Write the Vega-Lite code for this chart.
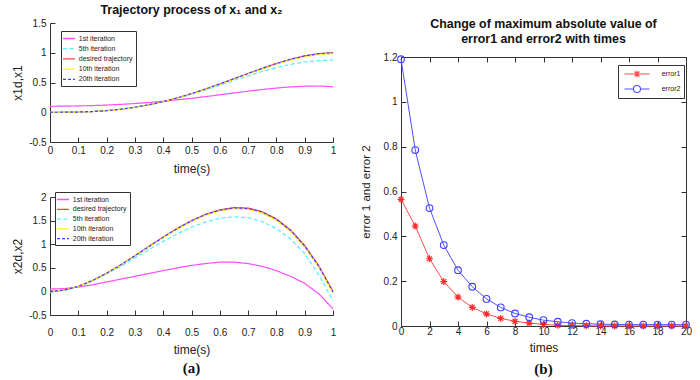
{
  "$schema": "https://vega.github.io/schema/vega-lite/v6.json",
  "background": "white",
  "padding": {"left": 11, "top": 3, "right": 4, "bottom": 0},
  "spacing": 23,
  "config": {
    "view": {"stroke": null},
    "font": "Liberation Sans",
    "axis": {"grid": false, "domainColor": "#333", "tickColor": "#333", "labelColor": "#222", "titleColor": "#222", "labelFont": "Liberation Sans", "titleFont": "Liberation Sans", "labelFontSize": 10, "titleFontSize": 12, "titleFontWeight": "normal", "tickSize": -5, "labelOverlap": false, "labelFlush": false},
    "title": {"font": "Liberation Sans", "fontSize": 12.4, "fontWeight": "bold", "color": "#111", "anchor": "middle"}
  },
  "datasets": {
    "traj": [
      {"t":0,"s":"desired trajectory","x1":0,"x2":0},
      {"t":0.05,"s":"desired trajectory","x1":0.0005,"x2":0.0285},
      {"t":0.1,"s":"desired trajectory","x1":0.0037,"x2":0.108},
      {"t":0.15,"s":"desired trajectory","x1":0.012,"x2":0.2295},
      {"t":0.2,"s":"desired trajectory","x1":0.0272,"x2":0.384},
      {"t":0.25,"s":"desired trajectory","x1":0.0508,"x2":0.5625},
      {"t":0.3,"s":"desired trajectory","x1":0.0837,"x2":0.756},
      {"t":0.35,"s":"desired trajectory","x1":0.1265,"x2":0.9555},
      {"t":0.4,"s":"desired trajectory","x1":0.1792,"x2":1.152},
      {"t":0.45,"s":"desired trajectory","x1":0.2415,"x2":1.3365},
      {"t":0.5,"s":"desired trajectory","x1":0.3125,"x2":1.5},
      {"t":0.55,"s":"desired trajectory","x1":0.391,"x2":1.6335},
      {"t":0.6,"s":"desired trajectory","x1":0.4752,"x2":1.728},
      {"t":0.65,"s":"desired trajectory","x1":0.563,"x2":1.7745},
      {"t":0.7,"s":"desired trajectory","x1":0.6517,"x2":1.764},
      {"t":0.75,"s":"desired trajectory","x1":0.7383,"x2":1.6875},
      {"t":0.8,"s":"desired trajectory","x1":0.8192,"x2":1.536},
      {"t":0.85,"s":"desired trajectory","x1":0.8905,"x2":1.3005},
      {"t":0.9,"s":"desired trajectory","x1":0.9477,"x2":0.972},
      {"t":0.95,"s":"desired trajectory","x1":0.986,"x2":0.5415},
      {"t":1,"s":"desired trajectory","x1":1,"x2":0},
      {"t":0,"s":"1st iteration","x1":0.1,"x2":0.05},
      {"t":0.05,"s":"1st iteration","x1":0.1028,"x2":0.06},
      {"t":0.1,"s":"1st iteration","x1":0.1065,"x2":0.09},
      {"t":0.15,"s":"1st iteration","x1":0.1123,"x2":0.14},
      {"t":0.2,"s":"1st iteration","x1":0.1208,"x2":0.2},
      {"t":0.25,"s":"1st iteration","x1":0.1323,"x2":0.26},
      {"t":0.3,"s":"1st iteration","x1":0.1468,"x2":0.32},
      {"t":0.35,"s":"1st iteration","x1":0.1643,"x2":0.38},
      {"t":0.4,"s":"1st iteration","x1":0.1848,"x2":0.44},
      {"t":0.45,"s":"1st iteration","x1":0.2083,"x2":0.5},
      {"t":0.5,"s":"1st iteration","x1":0.2345,"x2":0.55},
      {"t":0.55,"s":"1st iteration","x1":0.263,"x2":0.59},
      {"t":0.6,"s":"1st iteration","x1":0.2933,"x2":0.62},
      {"t":0.65,"s":"1st iteration","x1":0.3243,"x2":0.62},
      {"t":0.7,"s":"1st iteration","x1":0.3545,"x2":0.59},
      {"t":0.75,"s":"1st iteration","x1":0.3825,"x2":0.53},
      {"t":0.8,"s":"1st iteration","x1":0.4068,"x2":0.44},
      {"t":0.85,"s":"1st iteration","x1":0.4258,"x2":0.32},
      {"t":0.9,"s":"1st iteration","x1":0.438,"x2":0.17},
      {"t":0.95,"s":"1st iteration","x1":0.441,"x2":-0.05},
      {"t":1,"s":"1st iteration","x1":0.4305,"x2":-0.37},
      {"t":0,"s":"5th iteration","x1":0,"x2":-0.02},
      {"t":0.05,"s":"5th iteration","x1":0.0003,"x2":0.02},
      {"t":0.1,"s":"5th iteration","x1":0.004,"x2":0.1},
      {"t":0.15,"s":"5th iteration","x1":0.012,"x2":0.22},
      {"t":0.2,"s":"5th iteration","x1":0.027,"x2":0.37},
      {"t":0.25,"s":"5th iteration","x1":0.05,"x2":0.53},
      {"t":0.3,"s":"5th iteration","x1":0.082,"x2":0.71},
      {"t":0.35,"s":"5th iteration","x1":0.122,"x2":0.89},
      {"t":0.4,"s":"5th iteration","x1":0.172,"x2":1.06},
      {"t":0.45,"s":"5th iteration","x1":0.232,"x2":1.22},
      {"t":0.5,"s":"5th iteration","x1":0.3,"x2":1.36},
      {"t":0.55,"s":"5th iteration","x1":0.375,"x2":1.47},
      {"t":0.6,"s":"5th iteration","x1":0.455,"x2":1.55},
      {"t":0.65,"s":"5th iteration","x1":0.535,"x2":1.58},
      {"t":0.7,"s":"5th iteration","x1":0.61,"x2":1.56},
      {"t":0.75,"s":"5th iteration","x1":0.685,"x2":1.48},
      {"t":0.8,"s":"5th iteration","x1":0.75,"x2":1.33},
      {"t":0.85,"s":"5th iteration","x1":0.805,"x2":1.11},
      {"t":0.9,"s":"5th iteration","x1":0.845,"x2":0.8},
      {"t":0.95,"s":"5th iteration","x1":0.868,"x2":0.35},
      {"t":1,"s":"5th iteration","x1":0.876,"x2":-0.2},
      {"t":0,"s":"10th iteration","x1":0,"x2":-0.01},
      {"t":0.05,"s":"10th iteration","x1":0.0005,"x2":0.025},
      {"t":0.1,"s":"10th iteration","x1":0.0035,"x2":0.105},
      {"t":0.15,"s":"10th iteration","x1":0.0118,"x2":0.226},
      {"t":0.2,"s":"10th iteration","x1":0.0268,"x2":0.38},
      {"t":0.25,"s":"10th iteration","x1":0.05,"x2":0.557},
      {"t":0.3,"s":"10th iteration","x1":0.0825,"x2":0.749},
      {"t":0.35,"s":"10th iteration","x1":0.1247,"x2":0.946},
      {"t":0.4,"s":"10th iteration","x1":0.1767,"x2":1.14},
      {"t":0.45,"s":"10th iteration","x1":0.2381,"x2":1.322},
      {"t":0.5,"s":"10th iteration","x1":0.308,"x2":1.483},
      {"t":0.55,"s":"10th iteration","x1":0.3855,"x2":1.614},
      {"t":0.6,"s":"10th iteration","x1":0.4685,"x2":1.706},
      {"t":0.65,"s":"10th iteration","x1":0.555,"x2":1.75},
      {"t":0.7,"s":"10th iteration","x1":0.6425,"x2":1.738},
      {"t":0.75,"s":"10th iteration","x1":0.728,"x2":1.66},
      {"t":0.8,"s":"10th iteration","x1":0.8075,"x2":1.507},
      {"t":0.85,"s":"10th iteration","x1":0.878,"x2":1.27},
      {"t":0.9,"s":"10th iteration","x1":0.9345,"x2":0.94},
      {"t":0.95,"s":"10th iteration","x1":0.9725,"x2":0.51},
      {"t":1,"s":"10th iteration","x1":0.986,"x2":-0.03},
      {"t":0,"s":"20th iteration","x1":0,"x2":-0.005},
      {"t":0.05,"s":"20th iteration","x1":0.0005,"x2":0.027},
      {"t":0.1,"s":"20th iteration","x1":0.0037,"x2":0.107},
      {"t":0.15,"s":"20th iteration","x1":0.012,"x2":0.229},
      {"t":0.2,"s":"20th iteration","x1":0.0272,"x2":0.383},
      {"t":0.25,"s":"20th iteration","x1":0.0508,"x2":0.561},
      {"t":0.3,"s":"20th iteration","x1":0.0836,"x2":0.754},
      {"t":0.35,"s":"20th iteration","x1":0.1264,"x2":0.953},
      {"t":0.4,"s":"20th iteration","x1":0.179,"x2":1.149},
      {"t":0.45,"s":"20th iteration","x1":0.2412,"x2":1.333},
      {"t":0.5,"s":"20th iteration","x1":0.3121,"x2":1.496},
      {"t":0.55,"s":"20th iteration","x1":0.3905,"x2":1.629},
      {"t":0.6,"s":"20th iteration","x1":0.4746,"x2":1.723},
      {"t":0.65,"s":"20th iteration","x1":0.5623,"x2":1.769},
      {"t":0.7,"s":"20th iteration","x1":0.6509,"x2":1.758},
      {"t":0.75,"s":"20th iteration","x1":0.7374,"x2":1.681},
      {"t":0.8,"s":"20th iteration","x1":0.8182,"x2":1.529},
      {"t":0.85,"s":"20th iteration","x1":0.8894,"x2":1.293},
      {"t":0.9,"s":"20th iteration","x1":0.9466,"x2":0.964},
      {"t":0.95,"s":"20th iteration","x1":0.9849,"x2":0.532},
      {"t":1,"s":"20th iteration","x1":0.999,"x2":-0.01}
    ],
    "err": [
      {"k":0,"s":"error1","v":0.565},{"k":1,"s":"error1","v":0.446},{"k":2,"s":"error1","v":0.3},{"k":3,"s":"error1","v":0.198},
      {"k":4,"s":"error1","v":0.129},{"k":5,"s":"error1","v":0.083},{"k":6,"s":"error1","v":0.054},{"k":7,"s":"error1","v":0.034},
      {"k":8,"s":"error1","v":0.021},{"k":9,"s":"error1","v":0.013},{"k":10,"s":"error1","v":0.007},{"k":11,"s":"error1","v":0.003},
      {"k":12,"s":"error1","v":0.002},{"k":13,"s":"error1","v":0.001},{"k":14,"s":"error1","v":0.0005},{"k":15,"s":"error1","v":0.0003},
      {"k":16,"s":"error1","v":0.0002},{"k":17,"s":"error1","v":0.0001},{"k":18,"s":"error1","v":0.0001},{"k":19,"s":"error1","v":0.0001},
      {"k":20,"s":"error1","v":0.0001},
      {"k":0,"s":"error2","v":1.19},{"k":1,"s":"error2","v":0.785},{"k":2,"s":"error2","v":0.526},{"k":3,"s":"error2","v":0.361},
      {"k":4,"s":"error2","v":0.249},{"k":5,"s":"error2","v":0.175},{"k":6,"s":"error2","v":0.121},{"k":7,"s":"error2","v":0.083},
      {"k":8,"s":"error2","v":0.056},{"k":9,"s":"error2","v":0.039},{"k":10,"s":"error2","v":0.026},{"k":11,"s":"error2","v":0.019},
      {"k":12,"s":"error2","v":0.013},{"k":13,"s":"error2","v":0.01},{"k":14,"s":"error2","v":0.008},{"k":15,"s":"error2","v":0.007},
      {"k":16,"s":"error2","v":0.006},{"k":17,"s":"error2","v":0.006},{"k":18,"s":"error2","v":0.006},{"k":19,"s":"error2","v":0.006},
      {"k":20,"s":"error2","v":0.006}
    ]
  },
  "resolve": {"scale": {"color": "independent", "strokeDash": "independent"}, "legend": {"color": "independent", "strokeDash": "independent"}},
  "hconcat": [
    {
      "spacing": 17,
      "resolve": {"scale": {"color": "independent", "strokeDash": "independent"}, "legend": {"color": "independent", "strokeDash": "independent"}},
      "vconcat": [
        {
          "width": 283, "height": 119,
          "title": {"text": "Trajectory process of x₁ and x₂", "offset": 2, "frame": "group"},
          "data": {"name": "traj"},
          "mark": {"type": "line", "strokeWidth": 1.2},
          "encoding": {
            "x": {"field": "t", "type": "quantitative", "scale": {"domain": [0, 1], "nice": false},
                  "axis": {"values": [0,0.1,0.2,0.3,0.4,0.5,0.6,0.7,0.8,0.9,1], "labelExpr": "'' + datum.value", "title": "time(s)", "labelPadding": 8, "titlePadding": 8}},
            "y": {"field": "x1", "type": "quantitative", "scale": {"domain": [-0.5, 1.5], "nice": false},
                  "axis": {"values": [-0.5,0,0.5,1,1.5], "labelExpr": "'' + datum.value", "title": "x1d,x1", "labelPadding": 9, "titlePadding": 4}},
            "color": {"field": "s", "type": "nominal",
                      "scale": {"domain": ["1st iteration","5th iteration","desired trajectory","10th iteration","20th iteration"], "range": ["#ff4dff","#55eeff","#ff4040","#ffee22","#4040ff"]},
                      "legend": {"orient": "none", "legendX": 11, "legendY": 8, "title": null, "symbolType": "M-1.6,0L1.6,0", "symbolSize": 56, "symbolStrokeWidth": 1.3, "symbolOffset": 0.5, "labelOffset": 5.3, "labelFontSize": 7, "labelFont": "Liberation Sans", "labelColor": "#222", "rowPadding": 2.2, "padding": 3, "strokeColor": "#333", "fillColor": "white", "cornerRadius": 0}},
            "strokeDash": {"field": "s", "type": "nominal",
                      "scale": {"domain": ["1st iteration","5th iteration","desired trajectory","10th iteration","20th iteration"], "range": [[1,0],[4,2.5],[1,0],[1,0],[3,2]]},
                      "legend": {"orient": "none", "legendX": 11, "legendY": 8, "title": null, "symbolType": "M-1.6,0L1.6,0", "symbolSize": 56, "symbolStrokeWidth": 1.3, "symbolOffset": 0.5, "labelOffset": 5.3, "labelFontSize": 7, "labelFont": "Liberation Sans", "labelColor": "#222", "rowPadding": 2.2, "padding": 3, "strokeColor": "#333", "fillColor": "white", "cornerRadius": 0}}
          }
        },
        {
          "width": 283, "height": 118,
          "title": {"text": "(a)", "orient": "bottom", "offset": 6, "frame": "group", "font": "Liberation Serif", "fontSize": 15, "fontWeight": "bold"},
          "data": {"name": "traj"},
          "mark": {"type": "line", "strokeWidth": 1.2},
          "encoding": {
            "x": {"field": "t", "type": "quantitative", "scale": {"domain": [0, 1], "nice": false},
                  "axis": {"values": [0,0.1,0.2,0.3,0.4,0.5,0.6,0.7,0.8,0.9,1], "labelExpr": "'' + datum.value", "title": "time(s)", "labelPadding": 17, "titlePadding": 7}},
            "y": {"field": "x2", "type": "quantitative", "scale": {"domain": [-0.5, 2], "nice": false},
                  "axis": {"values": [-0.5,0,0.5,1,1.5,2], "labelExpr": "'' + datum.value", "title": "x2d,x2", "labelPadding": 9, "titlePadding": 4}},
            "color": {"field": "s", "type": "nominal",
                      "scale": {"domain": ["1st iteration","desired trajectory","5th iteration","10th iteration","20th iteration"], "range": ["#ff4dff","#ff4040","#55eeff","#ffee22","#4040ff"]},
                      "legend": {"orient": "none", "legendX": 5, "legendY": -5, "title": null, "symbolType": "M-1.6,0L1.6,0", "symbolSize": 56, "symbolStrokeWidth": 1.3, "symbolOffset": 0.5, "labelOffset": 5.3, "labelFontSize": 7, "labelFont": "Liberation Sans", "labelColor": "#222", "rowPadding": 1.8, "padding": 3, "strokeColor": "#333", "fillColor": "white", "cornerRadius": 0}},
            "strokeDash": {"field": "s", "type": "nominal",
                      "scale": {"domain": ["1st iteration","desired trajectory","5th iteration","10th iteration","20th iteration"], "range": [[1,0],[1,0],[4,2.5],[1,0],[3,2]]},
                      "legend": {"orient": "none", "legendX": 5, "legendY": -5, "title": null, "symbolType": "M-1.6,0L1.6,0", "symbolSize": 56, "symbolStrokeWidth": 1.3, "symbolOffset": 0.5, "labelOffset": 5.3, "labelFontSize": 7, "labelFont": "Liberation Sans", "labelColor": "#222", "rowPadding": 1.8, "padding": 3, "strokeColor": "#333", "fillColor": "white", "cornerRadius": 0}}
          }
        }
      ]
    },
    {
      "spacing": 5,
      "resolve": {"scale": {"color": "independent"}, "legend": {"color": "independent"}},
      "vconcat": [
        {
          "width": 285, "height": 1,
          "data": {"values": [{}]},
          "mark": {"type": "point", "opacity": 0},
          "encoding": {},
          "title": {"text": ["Change of maximum absolute value of", "error1 and error2 with times"], "orient": "bottom", "offset": -8, "frame": "group", "lineHeight": 15}
        },
        {
          "width": 285, "height": 269,
          "title": {"text": "(b)", "orient": "bottom", "offset": 9, "frame": "group", "font": "Liberation Serif", "fontSize": 15, "fontWeight": "bold"},
          "view": {"stroke": "#333"},
          "data": {"name": "err"},
          "resolve": {"axis": {"x": "independent", "y": "independent"}},
          "layer": [
            {
              "mark": {"type": "line", "strokeWidth": 1},
              "encoding": {
                "x": {"field": "k", "type": "quantitative", "scale": {"domain": [0, 20], "nice": false},
                      "axis": {"values": [0,2,4,6,8,10,12,14,16,18,20], "title": "times", "labelPadding": 5, "titlePadding": 6}},
                "y": {"field": "v", "type": "quantitative", "scale": {"domain": [0, 1.2], "nice": false},
                      "axis": {"values": [0,0.2,0.4,0.6,0.8,1,1.2], "labelExpr": "'' + datum.value", "title": "error 1 and error 2", "titleFontSize": 11.5, "labelPadding": 9, "titlePadding": 12}},
                "color": {"field": "s", "type": "nominal", "scale": {"domain": ["error1","error2"], "range": ["#ff4d4d","#5050ff"]},
                          "legend": {"orient": "none", "legendX": 217, "legendY": 8, "title": null, "symbolType": "M-2.5,0L2.5,0", "symbolSize": 100, "symbolStrokeWidth": 1.1, "symbolOffset": 10, "labelOffset": 18.7, "labelFontSize": 7, "labelFont": "Liberation Sans", "labelColor": "#222", "rowPadding": 3, "padding": 3, "strokeColor": "#333", "fillColor": "white", "cornerRadius": 0,
                                     "encoding": {"symbols": {"shape": {"value": {"expr": "datum.value === 'error1' ? 'M-2.5,0L2.5,0M-0.7,0L0.7,0M0,-0.7L0,0.7M-0.5,-0.5L0.5,0.5M-0.5,0.5L0.5,-0.5' : 'M-2.5,0L-0.7,0M0.7,0L2.5,0M0.7,0A0.7,0.7,0,1,1,-0.7,0A0.7,0.7,0,1,1,0.7,0'"}}}}}}
              }
            },
            {
              "transform": [{"filter": "datum.s === 'error1'"}],
              "mark": {"type": "point", "shape": "M-1,0L1,0M0,-1L0,1M-0.7,-0.7L0.7,0.7M-0.7,0.7L0.7,-0.7", "filled": false, "color": "#ff2a2a", "size": 49, "strokeWidth": 1.2, "opacity": 1},
              "encoding": {
                "x": {"field": "k", "type": "quantitative",
                      "axis": {"orient": "top", "values": [0,2,4,6,8,10,12,14,16,18,20], "labels": false, "title": null}},
                "y": {"field": "v", "type": "quantitative",
                      "axis": {"orient": "right", "values": [0,0.2,0.4,0.6,0.8,1,1.2], "labels": false, "title": null}}
              }
            },
            {
              "transform": [{"filter": "datum.s === 'error2'"}],
              "mark": {"type": "point", "shape": "circle", "filled": false, "color": "#4040ff", "size": 45, "strokeWidth": 1.1, "opacity": 1},
              "encoding": {
                "x": {"field": "k", "type": "quantitative", "axis": null},
                "y": {"field": "v", "type": "quantitative", "axis": null}
              }
            }
          ]
        }
      ]
    }
  ]
}
